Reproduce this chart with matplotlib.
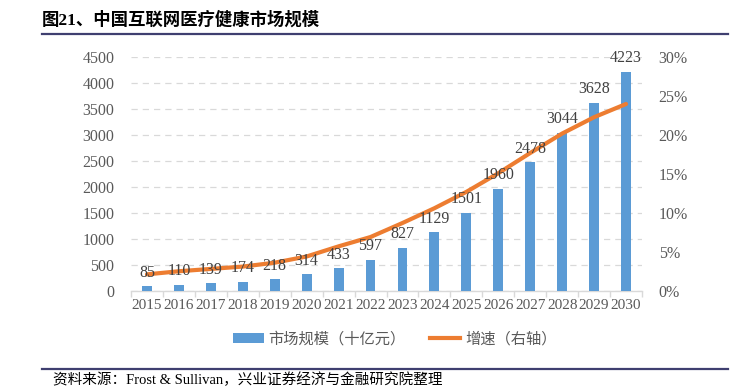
import matplotlib
matplotlib.use("Agg")
import matplotlib.pyplot as plt
from matplotlib.lines import Line2D
from matplotlib.patches import Patch
import numpy as np

years = ["2015", "2016", "2017", "2018", "2019", "2020", "2021", "2022",
         "2023", "2024", "2025", "2026", "2027", "2028", "2029", "2030"]
market_size = [85, 110, 139, 174, 218, 314, 433, 597, 827, 1129, 1501, 1960, 2478, 3044, 3628, 4223]
growth_pct = [2.1, 2.5, 2.8, 3.1, 3.6, 4.4, 5.7, 6.9, 8.7, 10.6, 12.7, 15.1, 17.7, 20.2, 22.3, 24.0]
left_ticks = [0, 500, 1000, 1500, 2000, 2500, 3000, 3500, 4000, 4500]
right_ticks = [0, 5, 10, 15, 20, 25, 30]

title = "图21、中国互联网医疗健康市场规模"
source = "资料来源：Frost & Sullivan，兴业证券经济与金融研究院整理"
legend_labels = ["市场规模（十亿元）", "增速（右轴）"]

FAM = ["Liberation Serif", "Noto Sans CJK SC", "DejaVu Sans"]
plt.rcParams["font.family"] = FAM

W, H = 742, 392
fig = plt.figure(figsize=(W / 100, H / 100), dpi=100)

x0, x1 = 131, 642
y_top, y_bot = 57.3, 290.7
ax = fig.add_axes([x0 / W, 1 - y_bot / H, (x1 - x0) / W, (y_bot - y_top) / H])
ax2 = ax.twinx()

gray = "#595959"
blue = "#5B9BD5"
orange = "#ED7D31"

x = np.arange(len(years))
ax.bar(x, market_size, width=0.31, color=blue, zorder=3)
ax.set_xlim(-0.5, len(years) - 0.5)
ax.set_ylim(0, 4500)
ax.set_yticks(left_ticks)
ax.set_yticklabels([str(t) for t in left_ticks])
ax.yaxis.grid(True, color="#D9D9D9", linestyle=(0, (5, 4)), linewidth=0.9, zorder=0)
ax.set_axisbelow(True)
for s in ["top", "right", "left"]:
    ax.spines[s].set_visible(False)
ax.spines["bottom"].set_color("#D9D9D9")
ax.spines["bottom"].set_linewidth(1.0)
ax.set_xticks(x)
ax.set_xticklabels(years)
ax.tick_params(axis="x", length=0, labelsize=11, colors=gray, pad=6)
ax.set_xticks(np.arange(-0.5, len(years), 1), minor=True)
ax.tick_params(axis="x", which="minor", length=4, color="#D9D9D9", width=1.0)
ax.tick_params(axis="y", length=0, labelsize=11.5, colors=gray, pad=12)

for xi, v in zip(x, market_size):
    ax.annotate(str(v), (xi, v), xytext=(0, 4), textcoords="offset points",
                ha="center", va="bottom", fontsize=11.5, color="#404040", zorder=5)

ax2.set_ylim(0, 30)
ax2.set_yticks(right_ticks)
ax2.set_yticklabels([f"{t}%" for t in right_ticks])
ax2.tick_params(axis="y", length=0, labelsize=11.5, colors=gray, pad=12)
for s in ["top", "right", "left", "bottom"]:
    ax2.spines[s].set_visible(False)
ax.set_zorder(ax2.get_zorder() + 1)
ax.patch.set_visible(False)
# growth line drawn on the primary axes using the right-axis scale (0-30% -> 0-4500)
ax.plot(x, np.array(growth_pct) * 4500 / 30, color=orange, linewidth=3,
        solid_capstyle="round", zorder=4)

# legend
handles = [Patch(facecolor=blue, edgecolor="none"),
           Line2D([0], [0], color=orange, linewidth=3)]
fig.legend(handles, legend_labels, loc="center left", bbox_to_anchor=(233 / W, 1 - 339 / H),
           ncol=2, frameon=False, handlelength=2.0, handleheight=0.6, handletextpad=0.3,
           columnspacing=1.6, borderpad=0, borderaxespad=0,
           labelcolor=gray, prop={"family": ["Noto Sans CJK SC"], "size": 11})

# title and source
fig.text(42 / W, 1 - 20 / H, title, fontsize=12.5, fontweight="bold", color="#000000",
         ha="left", va="center", family=["Liberation Serif", "Noto Sans CJK SC"])
fig.add_artist(Line2D([42 / W, 728 / W], [1 - 33.5 / H, 1 - 33.5 / H],
                      color="#3F3F70", linewidth=1.6))
fig.add_artist(Line2D([42 / W, 728 / W], [1 - 369 / H, 1 - 369 / H],
                      color="#3F3F70", linewidth=1.6))
fig.text(53 / W, 1 - 380 / H, source, fontsize=10.5, color="#000000",
         ha="left", va="center", family=["Liberation Serif", "Noto Sans CJK SC"])

fig.savefig("out.png", dpi=100)
